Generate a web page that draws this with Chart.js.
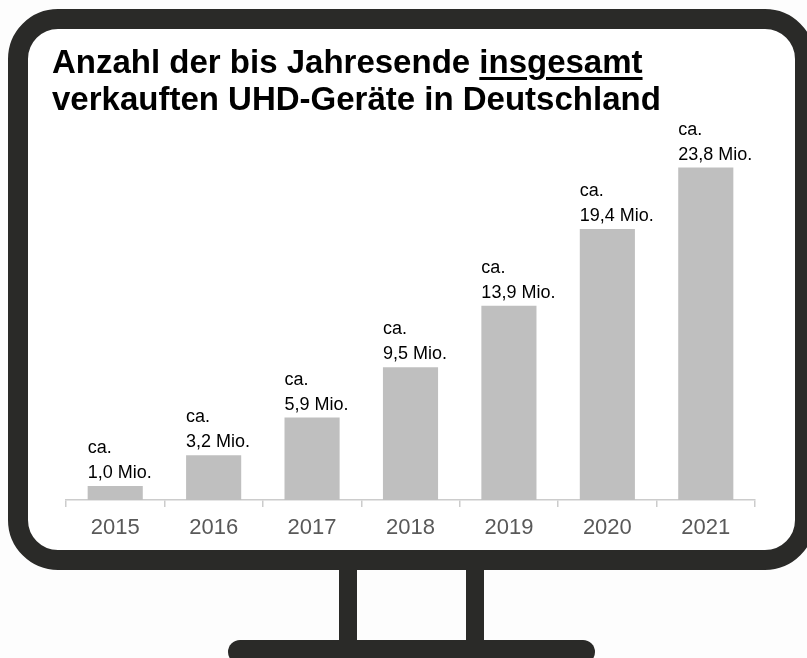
<!DOCTYPE html>
<html lang="de">
<head>
<meta charset="utf-8">
<script src="https://cdn.jsdelivr.net/npm/chart.js@4"></script>
<style>
	html, body { margin: 0; padding: 0; }
	body { width: 807px; height: 658px; overflow: hidden; background: #fdfdfd; position: relative; font-family: "Liberation Sans", Arial, sans-serif; }
	.monitor { position: absolute; left: 8px; top: 9px; width: 807px; height: 561px; box-sizing: border-box; border: 20px solid #2a2a28; border-radius: 50px; background: #fff; }
	.neck { position: absolute; top: 565px; width: 18px; height: 80px; background: #2a2a28; }
	.base { position: absolute; left: 228px; top: 640px; width: 367px; height: 24px; border-radius: 12px; background: #2a2a28; }
	#chartBox { position: absolute; left: 27px; top: 29px; width: 768px; height: 519px; }
	h1 { position: absolute; left: 52px; top: 43px; margin: 0; font-size: 33px; line-height: 37px; font-weight: bold; color: #000; white-space: nowrap; }
	h1 u { text-decoration-thickness: 2.5px; text-underline-offset: 4px; }
</style>
</head>
<body>
<div class="monitor"></div>
<div class="neck" style="left:339px"></div>
<div class="neck" style="left:466px"></div>
<div class="base"></div>
<div id="chartBox"><canvas id="uhdChart"></canvas></div>
<h1>Anzahl der bis Jahresende <u>insgesamt</u><br>verkauften UHD-Geräte in Deutschland</h1>
<script>
const years = ['2015', '2016', '2017', '2018', '2019', '2020', '2021'];
const soldMio = [1.0, 3.2, 5.9, 9.5, 13.9, 19.4, 23.8];

const fontFamily = '"Liberation Sans", Arial, sans-serif';

// "ca." + value over each bar, left aligned to the bar
const barLabels = {
	id: 'barLabels',
	afterDatasetsDraw(chart) {
		const ctx = chart.ctx;
		const meta = chart.getDatasetMeta(0);
		ctx.save();
		ctx.font = `18px ${fontFamily}`;
		ctx.fillStyle = '#000';
		ctx.textAlign = 'left';
		ctx.textBaseline = 'alphabetic';
		meta.data.forEach((bar, i) => {
			const left = bar.x - bar.width / 2;
			const txt = soldMio[i].toFixed(1).replace('.', ',') + ' Mio.';
			ctx.fillText('ca.', left, bar.y - 33);
			ctx.fillText(txt, left, bar.y - 8);
		});
		ctx.restore();
	}
};

const uhdChart = new Chart(document.getElementById('uhdChart'), {
	type: 'bar',
	data: {
		labels: years,
		datasets: [{
			data: soldMio,
			backgroundColor: '#bfbfbf',
			borderWidth: 0,
			barPercentage: 0.56,
			categoryPercentage: 1.0
		}]
	},
	options: {
		responsive: true,
		maintainAspectRatio: false,
		animation: false,
		layout: { padding: { top: 52, left: 39, right: 40, bottom: 0 } },
		plugins: {
			legend: { display: false },
			tooltip: { enabled: false }
		},
		scales: {
			x: {
				offset: true,
				grid: { offset: true, drawOnChartArea: false, tickLength: 7, color: '#cccccc', lineWidth: 1.5 },
				border: { color: '#cccccc', width: 1.5 },
				ticks: { color: '#595959', padding: 8, font: { size: 22, family: fontFamily } },
				afterFit(axis) { axis.height = 48; }
			},
			y: {
				display: false,
				min: 0,
				max: 30
			}
		}
	},
	plugins: [barLabels]
});
</script>
</body>
</html>
